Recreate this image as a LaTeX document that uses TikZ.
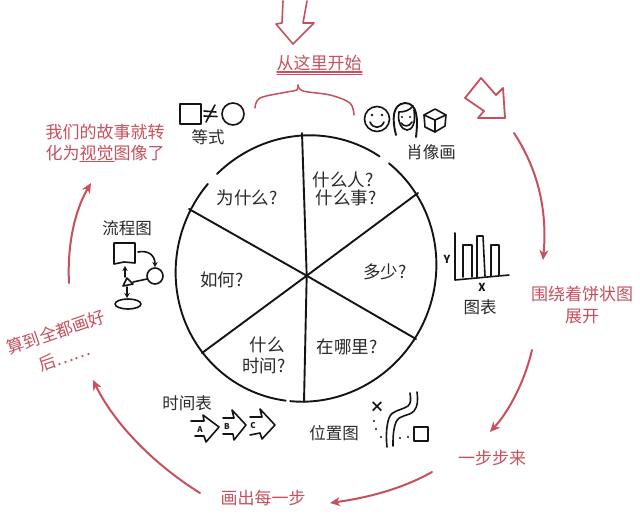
\documentclass[tikz,border=0pt]{standalone}
\usepackage{fontspec}
\setmainfont{Noto Sans CJK SC}
\usetikzlibrary{arrows.meta}
\definecolor{redink}{HTML}{C8505C}
\definecolor{ink}{HTML}{141414}
\definecolor{txt}{HTML}{2A2A2A}
\tikzset{
  wheel/.style={draw=ink,line width=1.9pt,line cap=round,line join=round},
  icon/.style={draw=ink,line width=1.6pt,line cap=round,line join=round},
  redflow/.style={draw=redink,line width=2pt,line cap=round,-{Stealth[length=10pt,width=9pt,inset=3pt]}},
  redline/.style={draw=redink,line width=1.2pt,line cap=round,line join=round},
  minitip/.style={-{Stealth[length=5pt,width=5.5pt]}},
  lbl/.style={text=txt,font=\fontsize{16.5}{18}\selectfont,inner sep=0pt},
  pie/.style={text=txt,font=\fontsize{17.5}{19}\selectfont,inner sep=0pt},
  redlbl/.style={text=redink,font=\fontsize{17}{19}\selectfont,inner sep=0pt},
  tiny/.style={text=ink,font=\fontsize{8}{9}\selectfont\bfseries,inner sep=0pt},
  axislbl/.style={text=ink,font=\fontsize{11}{12}\selectfont\bfseries,inner sep=0pt},
}
\newcommand{\rimx}[1]{306+130*(1+0.015*cos(2*(#1+40)))*cos(#1)}
\newcommand{\rimy}[1]{268.5+133.5*(1+0.015*cos(2*(#1+40)))*sin(#1)}
\begin{document}
\begin{tikzpicture}[x=1pt,y=-1pt]
\useasboundingbox[fill=white] (0,0) rectangle (640,515);

% wheel
\coordinate (hub) at (306.7,275.7);
\coordinate (sT) at (302,133);
\coordinate (sB) at (304,402);
\coordinate (sUL) at (189,209);
\coordinate (sLR) at (416,339);
\coordinate (sUR) at (418,193);
\coordinate (sLL) at (202,353);
\draw[wheel] plot[domain=226:304,samples=30,smooth] ({\rimx{\x}},{\rimy{\x}});
\draw[wheel] plot[domain=-51:97,samples=50,smooth] ({\rimx{\x}},{\rimy{\x}});
\draw[wheel] plot[domain=99:220,samples=40,smooth] ({\rimx{\x}},{\rimy{\x}});
\draw[wheel] (sT) -- (hub) -- (sB);
\draw[wheel] (sUL) -- (hub) -- (sLR);
\draw[wheel] (sUR) -- (hub) -- (sLL);

% wheel labels
\node[pie] (why) at (247,198) {为什么?};
\node[pie] (who) at (343,180) {什么人?};
\node[pie] (what) at (346,198) {什么事?};
\node[pie] (much) at (385,272) {多少?};
\node[pie] (how) at (222,280) {如何?};
\node[pie] (whenA) at (267,345) {什么};
\node[pie] (whenB) at (264,366) {时间?};
\node[pie] (where) at (347,347) {在哪里?};

% hollow arrows
\draw[redline,line width=1.6pt] (283,1) -- (282,23) -- (276,24) -- (293,44) -- (314,23) -- (303,23) -- (307,1);
\draw[redline,line width=1.8pt] (481,78) -- (496,95) -- (503,88) -- (505,118) -- (478,118) -- (484,111) -- (465,98) -- cycle;

% start label and brace
\node[redlbl] (start) at (319,63) {从这里开始};
\draw[redline] (277,72) -- (362,72);
\draw[redline] (277,74.5) -- (362,74.5);
\draw[redline,line width=1.5pt] plot[smooth,tension=0.55] coordinates {(255,108) (260,98) (287,92) (297,90) (298,85)};
\draw[redline,line width=1.5pt] plot[smooth,tension=0.55] coordinates {(298,85) (303,91) (330,95) (350,103) (354,115)};

% circular red arrows
\coordinate (a1s) at (514,133); \coordinate (a1e) at (543,260);
\coordinate (a2s) at (532,350); \coordinate (a2e) at (490,432);
\coordinate (a3s) at (432,472); \coordinate (a3e) at (330,503);
\coordinate (a4s) at (200,493); \coordinate (a4e) at (93,380);
\coordinate (a5s) at (69,283);  \coordinate (a5e) at (91,183);
\draw[redflow] (a1s) .. controls (535,165) and (548,205) .. (a1e);
\draw[redflow] (a2s) .. controls (525,380) and (510,410) .. (a2e);
\draw[redflow] (a3s) .. controls (400,490) and (365,498) .. (a3e);
\draw[redflow] (a4s) .. controls (155,465) and (115,425) .. (a4e);
\draw[redflow] (a5s) .. controls (67,245) and (75,210) .. (a5e);

% red captions
\node[redlbl] (story1) at (105,132) {我们的故事就转};
\node[redlbl] (story2) at (105,153) {化为视觉图像了};
\draw[redline] (80,161.5) -- (114,161.5);
\node[redlbl] (around1) at (582,294) {围绕着饼状图};
\node[redlbl] (around2) at (582,316) {展开};
\node[redlbl] (stepwise) at (492,458) {一步步来};
\node[redlbl] (each) at (263,498) {画出每一步};
\node[redlbl,rotate=19] (all1) at (56,332) {算到全都画好};
\node[redlbl,rotate=19] (all2) at (64,357) {后……};

% equation icon
\draw[icon] (180,104) rectangle (201,124);
\draw[icon] (204,116) -- (217,116.5);
\draw[icon] (204,111) -- (216,112);
\draw[icon] (215,105) -- (206,122);
\draw[icon] (233,114) circle[radius=11pt];
\node[lbl] (eq) at (208,137) {等式};

% portrait icon
\draw[icon] (377,119) circle[radius=12.5pt];
\fill[ink] (372,115) circle[radius=1.3pt] (382,115) circle[radius=1.3pt];
\draw[icon] (370,122) .. controls (373,129) and (381,129) .. (384,122);
\draw[icon,line width=1.9pt] (396,135) .. controls (392,120) and (392,104) .. (405,103) .. controls (418,103) and (418,120) .. (416,137);
\draw[icon] (399,112) .. controls (405,112) and (410,110) .. (413,106);
\draw[icon] (399,112) .. controls (397,122) and (402,130) .. (407,130) .. controls (412,130) and (416,124) .. (414,110);
\fill[ink] (402,117) circle[radius=1.2pt] (410,117) circle[radius=1.2pt];
\draw[icon] (401,123) .. controls (404,127) and (409,127) .. (412,122);
\draw[icon] (424,115) -- (435,109) -- (446,115) -- (445,126) -- (435,132) -- (425,127) -- cycle;
\draw[icon] (424,115) -- (435,120) -- (446,115);
\draw[icon] (435,120) -- (435,132);
\node[lbl] (portrait) at (431,152) {肖像画};

% chart icon
\draw[icon] (455,233) -- (455,280) -- (509,275);
\draw[icon] (463,277) -- (463,245) -- (472,245) -- (472,277);
\draw[icon] (477,277) -- (477,236) -- (483,236) -- (485,276);
\draw[icon] (491,276) -- (491,245) -- (499,245) -- (499,275);
\node[axislbl] (ylab) at (447,259) {Y};
\node[axislbl] (xlab) at (482,287) {X};
\node[lbl] (chart) at (480,307) {图表};

% flowchart icon
\node[lbl] (flow) at (127,228) {流程图};
\draw[icon] (114,243) -- (135,243) -- (135,263) -- (124,262) -- (114,264) -- cycle;
\draw[icon] (155,276) circle[radius=8pt];
\draw[icon] (123,286) -- (127,278) -- (133,284) -- cycle;
\draw[icon] (128,304) ellipse[x radius=13pt,y radius=5pt];
\draw[icon,minitip] (138,252) .. controls (148,250) and (155,255) .. (155,267);
\draw[icon] (133,282) -- (147,279);
\draw[icon,minitip] (125,277) -- (125,266);
\draw[icon,minitip] (127,287) -- (127,298);

% timeline icon
\node[lbl] (timeline) at (187,403) {时间表};
\draw[icon] (191,421) -- (204,421) -- (203,415) -- (219,427) -- (206,442) -- (204,436) -- (195,436);
\draw[icon] (223,418) -- (234,418) -- (232,410) -- (246,425) -- (234,440) -- (233,434) -- (223,434);
\draw[icon] (250,417) -- (262,417) -- (260,409) -- (275,425) -- (262,439) -- (260,433) -- (250,435);
\node[tiny] (tA) at (200,430) {A};
\node[tiny] (tB) at (227,427) {B};
\node[tiny] (tC) at (253,426) {C};

% map icon
\node[lbl] (map) at (334,433) {位置图};
\node[text=ink,font=\fontsize{15}{15}\selectfont\bfseries,inner sep=0pt] (mapx) at (377,407) {×};
\draw[icon] (410,393) .. controls (411,400) and (411,403) .. (408,406) .. controls (400,411) and (392,410) .. (389,418) .. controls (386,427) and (386,438) .. (387,447);
\draw[icon] (417,392) .. controls (418,400) and (418,406) .. (414,411) .. controls (408,417) and (400,414) .. (396,422) .. controls (393,430) and (393,438) .. (393,446);
\fill[ink] (374,421) circle[radius=1.1pt] (376,429) circle[radius=1.1pt] (381,437) circle[radius=1.1pt] (400,438) circle[radius=1.1pt] (408,437) circle[radius=1.1pt];
\draw[icon] (414,427) rectangle (428,441);
\end{tikzpicture}
\end{document}
